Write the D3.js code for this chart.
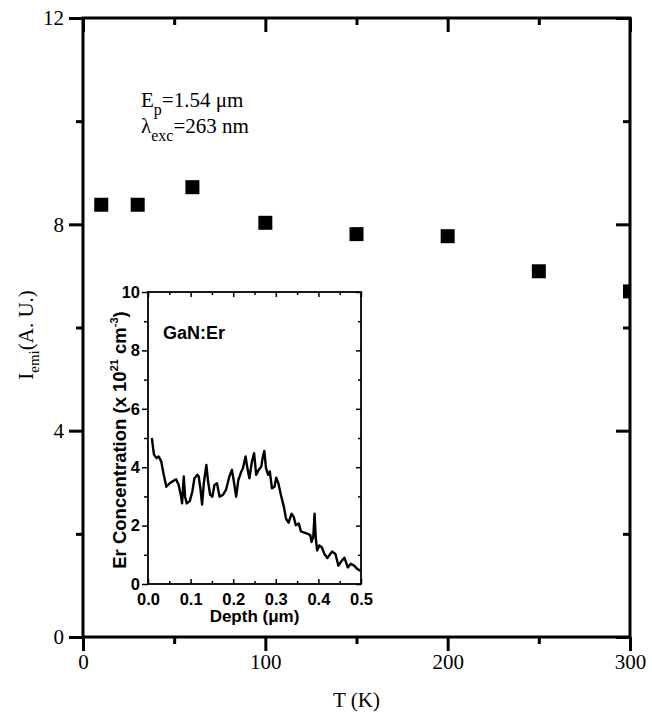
<!DOCTYPE html>
<html>
<head>
<meta charset="utf-8">
<script src="https://cdn.jsdelivr.net/npm/d3@7"></script>
<style>
  html, body { margin: 0; padding: 0; background: #fff; }
  svg { display: block; }
</style>
</head>
<body>
<svg id="chart" width="652" height="719"></svg>
<script>
// ---- Main chart data ----
const temperatures = [10, 30, 60, 100, 150, 200, 250, 300];
const intensities  = [8.38, 8.38, 8.72, 8.03, 7.81, 7.77, 7.09, 6.70];
const mainXMajor = [0, 100, 200, 300];
const mainXMinor = [50, 150, 250];
const mainYMajor = [0, 4, 8, 12];
const mainYMinor = [2, 6, 10];

// ---- Inset data (Er depth profile) ----
const depth = [0.009,0.014,0.020,0.025,0.031,0.037,0.043,0.051,0.059,0.066,
  0.072,0.077,0.080,0.084,0.087,0.091,0.098,0.104,0.109,0.116,
  0.119,0.123,0.127,0.131,0.137,0.141,0.146,0.151,0.156,0.162,
  0.168,0.176,0.183,0.191,0.197,0.201,0.207,0.212,0.219,0.223,
  0.229,0.234,0.238,0.244,0.249,0.254,0.260,0.266,0.269,0.273,
  0.277,0.282,0.286,0.291,0.297,0.301,0.306,0.312,0.319,0.324,
  0.330,0.337,0.342,0.347,0.354,0.359,0.367,0.375,0.381,0.384,
  0.388,0.391,0.394,0.397,0.402,0.408,0.414,0.421,0.432,0.440,
  0.447,0.455,0.461,0.469,0.476,0.484,0.491,0.500];
const concentration = [5.0,4.43,4.31,4.37,4.2,3.74,3.33,3.45,3.53,3.59,
  3.39,3.05,2.76,3.68,2.99,2.76,2.84,3.16,3.62,3.74,
  3.68,3.28,2.72,3.45,4.08,3.51,3.05,2.99,3.39,3.45,
  2.99,3.05,3.22,3.68,3.91,3.56,2.99,3.56,3.85,3.97,
  4.37,3.91,3.62,4.2,4.48,3.74,3.91,4.02,4.31,4.56,
  3.97,3.74,3.85,3.28,3.33,3.64,3.45,3.05,2.64,2.24,
  2.10,2.41,2.30,2.01,2.07,1.80,1.76,1.72,1.67,1.44,
  1.61,2.41,1.55,1.15,1.32,1.26,1.03,0.89,1.11,1.03,
  0.63,0.80,0.90,0.57,0.69,0.63,0.52,0.44];
const insetXMajor = [0, 0.1, 0.2, 0.3, 0.4, 0.5];
const insetXMinor = [0.05, 0.15, 0.25, 0.35, 0.45];
const insetYMajor = [0, 2, 4, 6, 8, 10];
const insetYMinor = [1, 3, 5, 7, 9];

const svg = d3.select("#chart");
const serif = "'Liberation Serif','Times New Roman',Times,serif";
const sans = "'Liberation Sans',Arial,Helvetica,sans-serif";

// ---- Main scales ----
const L = 83, R = 630, T = 18, B = 637;
const x = d3.scaleLinear().domain([0, 300]).range([L, R]);
const y = d3.scaleLinear().domain([0, 12]).range([B, T]);

function styleAxis(g, w, font, size, weight) {
  g.select(".domain").remove();
  g.selectAll(".tick line").attr("stroke", "#000").attr("stroke-width", w);
  g.selectAll(".tick text").attr("fill", "#000")
    .style("font-family", font).style("font-size", size + "px")
    .style("font-weight", weight || "normal");
}

// clip for markers
svg.append("clipPath").attr("id", "plotclip")
  .append("rect").attr("x", L).attr("y", T).attr("width", R - L).attr("height", B - T);

// markers
const ms = 14;
svg.append("g").attr("clip-path", "url(#plotclip)")
  .selectAll("rect").data(temperatures).join("rect")
  .attr("x", (d) => x(d) - ms / 2)
  .attr("y", (d, i) => y(intensities[i]) - ms / 2)
  .attr("width", ms).attr("height", ms)
  .attr("fill", "#000");

// main axes: bottom (outward), left (outward), top/right (inward)
svg.append("g").attr("transform", `translate(0,${B})`)
  .call(d3.axisBottom(x).tickValues(mainXMajor).tickSize(14).tickPadding(3).tickFormat(d3.format("d")))
  .call(g => styleAxis(g, 3, serif, 21));
svg.append("g").attr("transform", `translate(0,${B})`)
  .call(d3.axisBottom(x).tickValues(mainXMinor).tickSize(7).tickFormat(""))
  .call(g => styleAxis(g, 3, serif, 21));
svg.append("g").attr("transform", `translate(0,${T})`)
  .call(d3.axisBottom(x).tickValues(mainXMajor).tickSize(14).tickFormat(""))
  .call(g => styleAxis(g, 3, serif, 21));
svg.append("g").attr("transform", `translate(0,${T})`)
  .call(d3.axisBottom(x).tickValues(mainXMinor).tickSize(7).tickFormat(""))
  .call(g => styleAxis(g, 3, serif, 21));

svg.append("g").attr("transform", `translate(${L},0)`)
  .call(d3.axisLeft(y).tickValues(mainYMajor).tickSize(14).tickPadding(5).tickFormat(d3.format("d")))
  .call(g => styleAxis(g, 3, serif, 21));
svg.append("g").attr("transform", `translate(${L},0)`)
  .call(d3.axisLeft(y).tickValues(mainYMinor).tickSize(7).tickFormat(""))
  .call(g => styleAxis(g, 3, serif, 21));
svg.append("g").attr("transform", `translate(${R},0)`)
  .call(d3.axisLeft(y).tickValues(mainYMajor).tickSize(14).tickFormat(""))
  .call(g => styleAxis(g, 3, serif, 21));
svg.append("g").attr("transform", `translate(${R},0)`)
  .call(d3.axisLeft(y).tickValues(mainYMinor).tickSize(7).tickFormat(""))
  .call(g => styleAxis(g, 3, serif, 21));

// main frame
svg.append("rect").attr("x", L).attr("y", T).attr("width", R - L).attr("height", B - T)
  .attr("fill", "none").attr("stroke", "#000").attr("stroke-width", 3);

// axis titles
svg.append("text").attr("x", (L + R) / 2).attr("y", 707).attr("text-anchor", "middle")
  .style("font-family", serif).style("font-size", "21px").text("T (K)");

const yl = svg.append("text").attr("transform", "translate(33,335) rotate(-90)")
  .attr("text-anchor", "middle").style("font-family", serif).style("font-size", "21px");
yl.append("tspan").text("I");
yl.append("tspan").attr("dy", 6).style("font-size", "15px").text("emi");
yl.append("tspan").attr("dy", -6).text("(A. U.)");

// annotation
const a1 = svg.append("text").attr("x", 141).attr("y", 107)
  .style("font-family", serif).style("font-size", "21px");
a1.append("tspan").text("E");
a1.append("tspan").attr("dy", 8).style("font-size", "16px").text("p");
a1.append("tspan").attr("dy", -8).text("=1.54 μm");
const a2 = svg.append("text").attr("x", 141).attr("y", 133)
  .style("font-family", serif).style("font-size", "21px");
a2.append("tspan").text("λ");
a2.append("tspan").attr("dy", 8).style("font-size", "16px").text("exc");
a2.append("tspan").attr("dy", -8).text("=263 nm");

// ---- Inset ----
const iL = 148, iR = 361, iT = 292, iB = 584;
const ix = d3.scaleLinear().domain([0, 0.5]).range([iL, iR]);
const iy = d3.scaleLinear().domain([0, 10]).range([iB, iT]);

svg.append("rect").attr("x", iL).attr("y", iT).attr("width", iR - iL).attr("height", iB - iT)
  .attr("fill", "#fff");

const line = d3.line().x((d) => ix(d[0])).y((d) => iy(d[1]));
svg.append("path").datum(depth.map((d, i) => [d, concentration[i]]))
  .attr("d", line).attr("fill", "none").attr("stroke", "#000")
  .attr("stroke-width", 2.4).attr("stroke-linejoin", "round");

// inset axes
svg.append("g").attr("transform", `translate(0,${iB})`)
  .call(d3.axisBottom(ix).tickValues(insetXMajor).tickSize(-5).tickPadding(9).tickFormat(d3.format(".1f")))
  .call(g => styleAxis(g, 1.5, sans, 16.5, "bold"));
svg.append("g").attr("transform", `translate(0,${iB})`)
  .call(d3.axisBottom(ix).tickValues(insetXMinor).tickSize(-3).tickFormat(""))
  .call(g => styleAxis(g, 1.5, sans, 17, "bold"));
svg.append("g").attr("transform", `translate(0,${iT})`)
  .call(d3.axisBottom(ix).tickValues(insetXMajor).tickSize(5).tickFormat(""))
  .call(g => styleAxis(g, 1.5, sans, 17, "bold"));
svg.append("g").attr("transform", `translate(0,${iT})`)
  .call(d3.axisBottom(ix).tickValues(insetXMinor).tickSize(3).tickFormat(""))
  .call(g => styleAxis(g, 1.5, sans, 17, "bold"));

svg.append("g").attr("transform", `translate(${iL},0)`)
  .call(d3.axisLeft(iy).tickValues(insetYMajor).tickSize(6).tickPadding(2).tickFormat(d3.format("d")))
  .call(g => styleAxis(g, 1.5, sans, 16.5, "bold"));
svg.append("g").attr("transform", `translate(${iL},0)`)
  .call(d3.axisLeft(iy).tickValues(insetYMinor).tickSize(4).tickFormat(""))
  .call(g => styleAxis(g, 1.5, sans, 17, "bold"));
svg.append("g").attr("transform", `translate(${iR},0)`)
  .call(d3.axisLeft(iy).tickValues(insetYMajor).tickSize(5).tickFormat(""))
  .call(g => styleAxis(g, 1.5, sans, 17, "bold"));
svg.append("g").attr("transform", `translate(${iR},0)`)
  .call(d3.axisLeft(iy).tickValues(insetYMinor).tickSize(3).tickFormat(""))
  .call(g => styleAxis(g, 1.5, sans, 17, "bold"));

svg.append("rect").attr("x", iL).attr("y", iT).attr("width", iR - iL).attr("height", iB - iT)
  .attr("fill", "none").attr("stroke", "#000").attr("stroke-width", 1.8);

svg.append("text").attr("x", 163).attr("y", 339)
  .style("font-family", sans).style("font-size", "18px").style("font-weight", "bold").text("GaN:Er");

svg.append("text").attr("x", (iL + iR) / 2).attr("y", 622).attr("text-anchor", "middle")
  .style("font-family", sans).style("font-size", "17px").style("font-weight", "bold").text("Depth (μm)");

const il = svg.append("text").attr("transform", `translate(126,${(iT + iB) / 2 + 2}) rotate(-90)`)
  .attr("text-anchor", "middle").style("font-family", sans).style("font-size", "18.5px").style("font-weight", "bold");
il.append("tspan").text("Er Concentration (x 10");
il.append("tspan").attr("dy", -8).style("font-size", "11px").text("21");
il.append("tspan").attr("dy", 8).text(" cm");
il.append("tspan").attr("dy", -8).style("font-size", "11px").text("-3");
il.append("tspan").attr("dy", 8).text(")");
</script>
</body>
</html>
